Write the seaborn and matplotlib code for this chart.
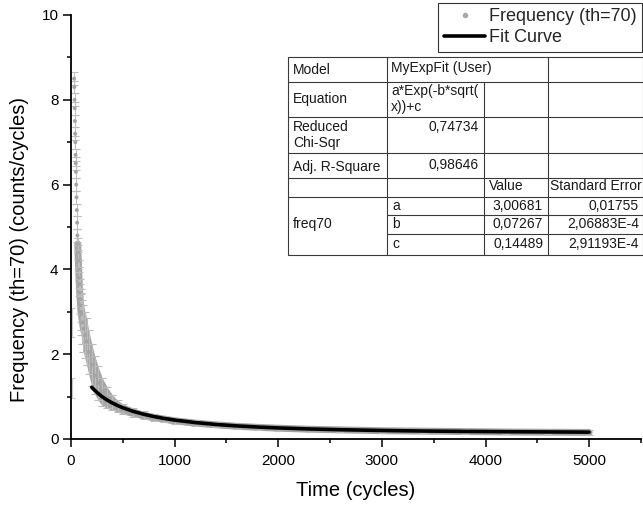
import matplotlib
matplotlib.use("Agg")
import matplotlib.pyplot as plt
import numpy as np
import pandas as pd
import seaborn as sns
from matplotlib.lines import Line2D
from matplotlib.patches import Rectangle
from matplotlib.ticker import MultipleLocator

# ---------------- data ----------------
time = [30, 32, 34, 36, 38, 40, 42, 44, 46, 48, 50, 53, 56, 59, 62, 65, 68, 71, 74, 77,
        80, 84, 88, 92, 96, 100, 110, 120, 135, 150, 170, 200, 230, 260, 300, 350, 400,
        450, 500, 600, 700, 800, 900, 1000, 1200, 1400, 1600, 1800, 2000, 2300, 2600,
        3000, 3400, 3800, 4200, 4600, 5000]
freq = [8.5, 8.3, 8.0, 7.8, 7.5, 7.2, 7.0, 6.7, 6.5, 6.3, 6.0, 5.7, 5.4, 5.1, 4.8, 4.6,
        4.4, 4.2, 4.0, 3.8, 3.65, 3.45, 3.3, 3.15, 3.0, 2.95, 2.75, 2.6, 2.45, 2.3, 2.05,
        1.75, 1.5, 1.32, 1.12, 0.97, 0.86, 0.77, 0.71, 0.63, 0.56, 0.51, 0.47, 0.43,
        0.375, 0.335, 0.30, 0.275, 0.255, 0.23, 0.215, 0.195, 0.185, 0.175, 0.165,
        0.16, 0.155]
freq_err = [0.15, 0.15, 0.15, 0.15, 0.15, 0.15, 0.15, 0.15, 0.15, 0.15, 0.15, 0.15,
            0.15, 0.15, 0.15, 0.15, 0.18, 0.2, 0.22, 0.25, 0.28, 0.32, 0.35, 0.38,
            0.42, 0.5, 0.52, 0.55, 0.55, 0.55, 0.52, 0.5, 0.45, 0.4, 0.33, 0.25, 0.18,
            0.14, 0.12, 0.1, 0.09, 0.08, 0.075, 0.07, 0.065, 0.06, 0.06, 0.06, 0.055,
            0.055, 0.05, 0.05, 0.05, 0.05, 0.05, 0.05, 0.05]

early_time = [14, 14]
early_freq = [2.75, 1.2]
early_err = [0.35, 0.24]

fit_time = [200, 220, 250, 300, 350, 400, 450, 500, 600, 700, 800, 900, 1000, 1200,
            1400, 1600, 1800, 2000, 2300, 2600, 3000, 3400, 3800, 4200, 4600, 5000]
fit_freq = [1.221, 1.168, 1.098, 0.999, 0.917, 0.848, 0.789, 0.737, 0.652, 0.585,
            0.530, 0.485, 0.447, 0.388, 0.343, 0.309, 0.283, 0.261, 0.237, 0.219,
            0.201, 0.188, 0.179, 0.172, 0.167, 0.162]

x_ticks = [0, 1000, 2000, 3000, 4000, 5000]
y_ticks = [0, 2, 4, 6, 8, 10]

legend_labels = ["Frequency (th=70)", "Fit Curve"]

tbl_left = ["Model", "Equation", "Reduced\nChi-Sqr", "Adj. R-Square", "", "freq70"]
tbl_model = "MyExpFit (User)"
tbl_equation = "a*Exp(-b*sqrt(\nx))+c"
tbl_chisq = "0,74734"
tbl_r2 = "0,98646"
tbl_params = ["a", "b", "c"]
tbl_values = ["3,00681", "0,07267", "0,14489"]
tbl_errors = ["0,01755", "2,06883E-4", "2,91193E-4"]

# ---------------- figure ----------------
sns.set_theme(style="ticks")
plt.rcParams["font.family"] = ["Liberation Sans", "DejaVu Sans"]

W, H = 643, 507
fig = plt.figure(figsize=(W / 100, H / 100), dpi=100)
ax = fig.add_axes([71 / W, 1 - 439 / H, 570 / W, 424 / H])

df = pd.DataFrame({"time": time, "freq": freq, "err": freq_err})
band = df[df["time"] >= 65]
gray = "#a6a6a6"
ax.fill_between(band["time"], band["freq"] - band["err"], band["freq"] + band["err"],
                color=gray, lw=0, zorder=1)
sns.lineplot(data=band, x="time", y="freq", color=gray, lw=5, ax=ax, zorder=1,
             legend=False, solid_capstyle="round")
ax.errorbar(df["time"], df["freq"], yerr=df["err"], fmt="none", ecolor="#bdbdbd",
            elinewidth=0.8, capsize=2.6, capthick=0.8, zorder=2)
ax.errorbar(early_time, early_freq, yerr=early_err, fmt="none", ecolor="#c8c8c8",
            elinewidth=0.8, capsize=2.0, capthick=0.8, zorder=2)
sns.scatterplot(data=df, x="time", y="freq", color="#a4a4a4", s=8, edgecolor="none",
                ax=ax, zorder=3, legend=False)

fit_df = pd.DataFrame({"time": fit_time, "fit": fit_freq})
sns.lineplot(data=fit_df, x="time", y="fit", color="black", lw=2.6, ax=ax, zorder=4,
             legend=False)

ax.set_xlim(0, 5500)
ax.set_ylim(0, 10)
ax.set_xticks(x_ticks)
ax.set_yticks(y_ticks)
ax.xaxis.set_minor_locator(MultipleLocator(500))
ax.yaxis.set_minor_locator(MultipleLocator(1))
for s in ["top", "right"]:
    ax.spines[s].set_visible(False)
for s in ["left", "bottom"]:
    ax.spines[s].set_linewidth(1.3)
    ax.spines[s].set_color("black")
ax.tick_params(which="major", length=6, width=1.1, direction="out", labelsize=11,
               colors="black")
ax.tick_params(axis="x", which="major", pad=5)
ax.tick_params(axis="y", which="major", pad=3)
ax.tick_params(which="minor", length=3.2, width=1.1, direction="out", colors="black")
ax.set_xlabel("Time (cycles)", fontsize=14.5, color="black")
ax.set_ylabel("Frequency (th=70) (counts/cycles)", fontsize=14.5, color="black")
ax.xaxis.set_label_coords(0.5, -0.098)
ax.yaxis.set_label_coords(-0.074, 0.448)

# legend
h1 = Line2D([], [], ls="none", marker="o", ms=4, color="#a8a8a8", mec="none")
h2 = Line2D([], [], color="black", lw=2.6)
leg = fig.legend([h1, h2], legend_labels, loc="upper right",
                 bbox_to_anchor=(642 / W, 1 - 3 / H), frameon=True, fancybox=False,
                 edgecolor="#333333", fontsize=13, borderpad=0.3, handlelength=2.3,
                 handletextpad=0.2, labelspacing=0.22, borderaxespad=0)
leg.get_frame().set_linewidth(0.8)
leg.get_frame().set_facecolor("white")
leg.get_frame().set_alpha(1)

# table overlay (pixel coordinates)
ov = fig.add_axes([0, 0, 1, 1], zorder=5)
ov.set_xlim(0, W)
ov.set_ylim(H, 0)
ov.axis("off")
L, c1, c2, c3, R = 288, 387, 484, 548, 643
rows = [57, 82, 117, 153, 178, 197, 215, 234, 255]
ov.add_patch(Rectangle((L, rows[0]), R - L, rows[-1] - rows[0], facecolor="white",
                       edgecolor="none"))
lc = "#3a3a3a"
lw = 0.8
for i, y in enumerate(rows):
    x0 = c1 if i in (6, 7) else L
    ov.plot([x0, R], [y, y], color=lc, lw=lw, solid_capstyle="butt")
ov.plot([L, L], [rows[0], rows[-1]], color=lc, lw=lw)
ov.plot([c1, c1], [rows[0], rows[-1]], color=lc, lw=lw)
ov.plot([c2, c2], [rows[1], rows[-1]], color=lc, lw=lw)
ov.plot([c3, c3], [rows[0], rows[-1]], color=lc, lw=lw)
ov.plot([R - 0.5, R - 0.5], [rows[0], rows[-1]], color=lc, lw=lw)

fs = 10
tc = "#1a1a1a"
ov.text(L + 5, 69.5, tbl_left[0], fontsize=fs, color=tc, va="center")
ov.text(L + 5, 99.5, tbl_left[1], fontsize=fs, color=tc, va="center")
ov.text(L + 5, 135, tbl_left[2], fontsize=fs, color=tc, va="center", linespacing=1.2)
ov.text(L + 5, 166.5, tbl_left[3], fontsize=fs, color=tc, va="center")
ov.text(L + 5, 224, tbl_left[5], fontsize=fs, color=tc, va="center")
ov.text(c1 + 4, 68, tbl_model, fontsize=fs, color=tc, va="center")
ov.text(c1 + 4, 99, tbl_equation, fontsize=fs, color=tc, va="center", linespacing=1.15)
ov.text(c2 - 5, 127, tbl_chisq, fontsize=fs, color=tc, va="center", ha="right")
ov.text(c2 - 5, 165, tbl_r2, fontsize=fs, color=tc, va="center", ha="right")
ov.text(c2 + 5, 186.5, "Value", fontsize=fs, color=tc, va="center")
ov.text(c3 + 2, 186.5, "Standard Error", fontsize=fs, color=tc, va="center")
for i in range(3):
    yc = (rows[5 + i] + rows[6 + i]) / 2
    ov.text(c1 + 5, yc, tbl_params[i], fontsize=fs, color=tc, va="center")
    ov.text(c3 - 5, yc, tbl_values[i], fontsize=fs, color=tc, va="center", ha="right")
    ov.text(R - 4, yc, tbl_errors[i], fontsize=fs, color=tc, va="center", ha="right")

fig.savefig("out.png", dpi=100)
